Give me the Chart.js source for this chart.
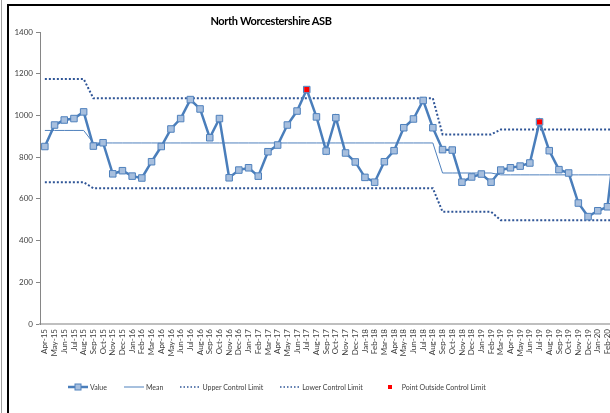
<!DOCTYPE html>
<html>
<head>
<meta charset="utf-8">
<script src="https://cdn.jsdelivr.net/npm/chart.js@4"></script>
<style>
  html, body { margin: 0; padding: 0; background: #fff; overflow: hidden; }
  #wrap { position: relative; width: 610px; height: 413px; overflow: hidden; font-family: Lato, "Open Sans", sans-serif; }
  #frameTop { position: absolute; left: 7px; top: 4px; width: 640px; height: 2px; background: #000; }
  #frameLeft { position: absolute; left: 7px; top: 4px; width: 2px; height: 420px; background: #000; }
  #edge { position: absolute; left: 1px; top: 0; width: 1px; height: 413px; background: #a0a0a0; }
  #chart { position: absolute; left: 0; top: 0; }
  #title { position: absolute; left: 171px; width: 200px; top: 14px; text-align: center; font-weight: bold;
           font-size: 11px; letter-spacing: -0.35px; color: #000; }
  #legend { position: absolute; left: 68px; top: 383px; display: flex; gap: 17px; font-size: 7px; color: #404040; white-space: nowrap; }
  #legend .item { display: flex; align-items: center; gap: 2px; }
</style>
</head>
<body>
<div id="wrap">
  <div id="edge"></div>
  <div id="frameTop"></div>
  <div id="frameLeft"></div>
  <canvas id="chart" width="640" height="413"></canvas>
  <div id="title">North Worcestershire ASB</div>
  <div id="legend"></div>
</div>
<script>
// maanader
const months = [
  'Apr-15','May-15','Jun-15','Jul-15','Aug-15','Sep-15','Oct-15','Nov-15','Dec-15','Jan-16','Feb-16','Mar-16',
  'Apr-16','May-16','Jun-16','Jul-16','Aug-16','Sep-16','Oct-16','Nov-16','Dec-16','Jan-17','Feb-17','Mar-17',
  'Apr-17','May-17','Jun-17','Jul-17','Aug-17','Sep-17','Oct-17','Nov-17','Dec-17','Jan-18','Feb-18','Mar-18',
  'Apr-18','May-18','Jun-18','Jul-18','Aug-18','Sep-18','Oct-18','Nov-18','Dec-18','Jan-19','Feb-19','Mar-19',
  'Apr-19','May-19','Jun-19','Jul-19','Aug-19','Sep-19','Oct-19','Nov-19','Dec-19','Jan-20','Feb-20','Mar-20'
];

const values = [
  851, 954, 978, 985, 1017, 853, 869, 720, 735, 709, 700, 778,
  851, 935, 985, 1076, 1031, 893, 985, 701, 738, 749, 709, 826,
  858, 954, 1021, 1124, 993, 829, 989, 820, 777, 703, 680, 778,
  831, 941, 983, 1072, 941, 836, 834, 680, 705, 719, 680, 738,
  749, 757, 772, 969, 831, 740, 724, 580, 515, 543, 562, 960
];

const mean = [
  928, 928, 928, 928, 928, 868, 868, 868, 868, 868, 868, 868,
  868, 868, 868, 868, 868, 868, 868, 868, 868, 868, 868, 868,
  868, 868, 868, 868, 868, 868, 868, 868, 868, 868, 868, 868,
  868, 868, 868, 868, 868, 724, 724, 724, 724, 724, 724, 715,
  715, 715, 715, 715, 715, 715, 715, 715, 715, 715, 715, 715
];

const upperLimit = [
  1175, 1175, 1175, 1175, 1175, 1082, 1082, 1082, 1082, 1082, 1082, 1082,
  1082, 1082, 1082, 1082, 1082, 1082, 1082, 1082, 1082, 1082, 1082, 1082,
  1082, 1082, 1082, 1082, 1082, 1082, 1082, 1082, 1082, 1082, 1082, 1082,
  1082, 1082, 1082, 1082, 1082, 909, 909, 909, 909, 909, 909, 932,
  932, 932, 932, 932, 932, 932, 932, 932, 932, 932, 932, 932
];

const lowerLimit = [
  680, 680, 680, 680, 680, 651, 651, 651, 651, 651, 651, 651,
  651, 651, 651, 651, 651, 651, 651, 651, 651, 651, 651, 651,
  651, 651, 651, 651, 651, 651, 651, 651, 651, 651, 651, 651,
  651, 651, 651, 651, 651, 538, 538, 538, 538, 538, 538, 498,
  498, 498, 498, 498, 498, 498, 498, 498, 498, 498, 498, 498
];

// punkter utanfor kontrollgranserna
const outside = [
  null, null, null, null, null, null, null, null, null, null, null, null,
  null, null, null, null, null, null, null, null, null, null, null, null,
  null, null, null, 1124, null, null, null, null, null, null, null, null,
  null, null, null, null, null, null, null, null, null, null, null, null,
  null, null, null, 969, null, null, null, null, null, null, null, null
];

const yTicks = [0, 200, 400, 600, 800, 1000, 1200, 1400];

const blue = '#4a7ebb';
const lightBlue = '#a7bfde';
const meanBlue = '#4f81bd';
const limitBlue = '#2f5597';

const datasets = [
  { label: 'Point Outside Control Limit', data: outside, showLine: false, pointStyle: 'rect',
    pointRadius: 3.6, pointBackgroundColor: '#ff0000', pointBorderWidth: 0, order: 0 },
  { label: 'Value', data: values, borderColor: blue, borderWidth: 2.5, pointStyle: 'rect',
    pointRadius: 4.6, pointBackgroundColor: lightBlue, pointBorderColor: meanBlue, pointBorderWidth: 1, order: 1 },
  { label: 'Mean', data: mean, borderColor: meanBlue, borderWidth: 1, pointRadius: 0, order: 2 },
  { label: 'Upper Control Limit', data: upperLimit, borderColor: limitBlue, borderWidth: 2,
    borderDash: [2, 2], pointRadius: 0, order: 3 },
  { label: 'Lower Control Limit', data: lowerLimit, borderColor: limitBlue, borderWidth: 2,
    borderDash: [2, 2], pointRadius: 0, order: 4 }
];

const tickFont = { family: 'Lato, "Open Sans", sans-serif', size: 8 };

new Chart(document.getElementById('chart'), {
  type: 'line',
  data: { labels: months, datasets: datasets },
  options: {
    responsive: false,
    animation: false,
    layout: { padding: { top: 32, right: 18, bottom: 49, left: 0 } },
    elements: { line: { tension: 0, fill: false } },
    plugins: { legend: { display: false }, title: { display: false }, tooltip: { enabled: false } },
    scales: {
      x: {
        offset: true,
        grid: { display: false, drawTicks: false },
        border: { display: true, color: '#bfbfbf', width: 2 },
        ticks: { autoSkip: false, maxRotation: 90, minRotation: 90, padding: 5, color: '#404040', font: tickFont },
        afterFit: scale => { scale.height = 40; }
      },
      y: {
        min: 0, max: 1400,
        afterBuildTicks: scale => { scale.ticks = yTicks.map(v => ({ value: v })); },
        grid: { drawOnChartArea: false, drawTicks: true, tickLength: 4, color: '#868686' },
        border: { display: true, color: '#868686', width: 1 },
        ticks: { padding: 3, color: '#404040', font: tickFont, callback: v => String(v) },
        afterFit: scale => { scale.width = 40; }
      }
    }
  }
});

// forklaring under grafen
const legendItems = ['Value', 'Mean', 'Upper Control Limit', 'Lower Control Limit', 'Point Outside Control Limit'];

function swatch(name) {
  if (name === 'Value') {
    return `<svg width="20" height="8"><line x1="0" y1="4" x2="20" y2="4" stroke="${blue}" stroke-width="2.5"/>
      <rect x="7" y="1" width="6" height="6" fill="${lightBlue}" stroke="${meanBlue}" stroke-width="1"/></svg>`;
  }
  if (name === 'Mean') {
    return `<svg width="20" height="8"><line x1="0" y1="4" x2="20" y2="4" stroke="${meanBlue}" stroke-width="1"/></svg>`;
  }
  if (name === 'Point Outside Control Limit') {
    return `<svg width="20" height="8"><rect x="8" y="2" width="4" height="4" fill="#ff0000"/></svg>`;
  }
  return `<svg width="20" height="8"><line x1="0" y1="4" x2="20" y2="4" stroke="${limitBlue}" stroke-width="1.5" stroke-dasharray="1.5 2"/></svg>`;
}

const legend = document.getElementById('legend');
legendItems.forEach(name => {
  const el = document.createElement('div');
  el.className = 'item';
  el.innerHTML = swatch(name) + '<span>' + name + '</span>';
  legend.appendChild(el);
});
</script>
</body>
</html>
